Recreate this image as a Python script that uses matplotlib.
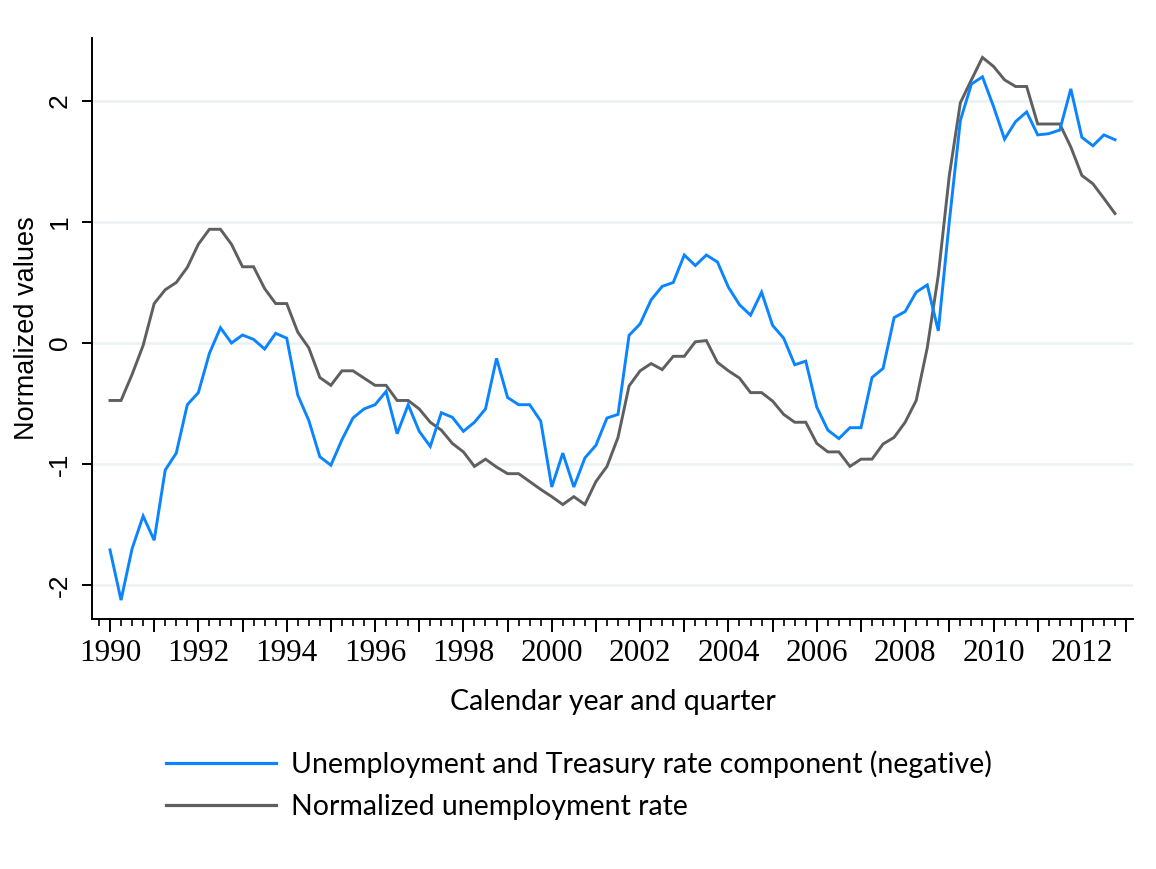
import numpy as np
import matplotlib
matplotlib.use("Agg")
import matplotlib.pyplot as plt
from matplotlib.ticker import MultipleLocator

# Quarterly data, 1990q1 .. 2012q4
start_year = 1990
n_quarters = 92

component_negative = [
    -1.71, -2.125, -1.70, -1.43, -1.63, -1.05, -0.91, -0.51, -0.41, -0.086,
    0.126, 0.0, 0.066, 0.03, -0.05, 0.08, 0.04, -0.43, -0.64, -0.94,
    -1.01, -0.80, -0.62, -0.545, -0.51, -0.40, -0.75, -0.51, -0.73, -0.855,
    -0.576, -0.614, -0.73, -0.655, -0.545, -0.127, -0.45, -0.51, -0.51, -0.645,
    -1.19, -0.91, -1.19, -0.95, -0.845, -0.62, -0.59, 0.063, 0.158, 0.357,
    0.468, 0.50, 0.727, 0.64, 0.727, 0.67, 0.46, 0.316, 0.23, 0.42,
    0.145, 0.04, -0.18, -0.15, -0.53, -0.72, -0.79, -0.70, -0.70, -0.285,
    -0.21, 0.21, 0.26, 0.42, 0.48, 0.10, 1.005, 1.84, 2.14, 2.20,
    1.955, 1.685, 1.83, 1.91, 1.72, 1.73, 1.76, 2.10, 1.70, 1.63,
    1.72, 1.68,
]

unemployment_norm = [
    -0.475, -0.475, -0.26, -0.02, 0.326, 0.44, 0.50, 0.625, 0.816, 0.94,
    0.94, 0.816, 0.63, 0.63, 0.45, 0.326, 0.326, 0.09, -0.04, -0.285,
    -0.35, -0.23, -0.23, -0.29, -0.35, -0.35, -0.475, -0.475, -0.545, -0.655,
    -0.72, -0.83, -0.90, -1.02, -0.96, -1.025, -1.08, -1.08, -1.145, -1.21,
    -1.27, -1.335, -1.27, -1.335, -1.145, -1.02, -0.78, -0.355, -0.23, -0.17,
    -0.22, -0.11, -0.11, 0.01, 0.02, -0.16, -0.23, -0.29, -0.41, -0.41,
    -0.48, -0.59, -0.655, -0.655, -0.83, -0.90, -0.90, -1.02, -0.96, -0.96,
    -0.835, -0.78, -0.655, -0.475, -0.04, 0.56, 1.385, 1.986, 2.175, 2.36,
    2.286, 2.175, 2.12, 2.12, 1.81, 1.81, 1.81, 1.62, 1.385, 1.316,
    1.195, 1.07,
]

year_ticks = list(range(1990, 2014))
year_labels = [str(y) if y % 2 == 0 and y <= 2012 else "" for y in year_ticks]
y_ticks = [-2, -1, 0, 1, 2]
y_labels = ["-2", "-1", "0", "1", "2"]

series_labels = [
    "Unemployment and Treasury rate component (negative)",
    "Normalized unemployment rate",
]

quarters = start_year + np.arange(n_quarters) / 4.0

BLUE = "#0A84FF"
GRAY = "#5F5F5F"
GRID = "#EAF2F3"

fig = plt.figure(figsize=(11.56, 8.69), dpi=100)
ax = fig.add_axes([0.0796, 0.2877, 0.9004, 0.6686])

for yv in y_ticks:
    ax.axhline(yv, color=GRID, lw=1.8, zorder=0)

l1, = ax.plot(quarters, component_negative, color=BLUE, lw=2.1,
              solid_joinstyle="miter", zorder=3)
l2, = ax.plot(quarters, unemployment_norm, color=GRAY, lw=2.1,
              solid_joinstyle="miter", zorder=2)

ax.set_xlim(1989.593, 2013.155)
ax.set_ylim(-2.281, 2.521)

for s in ["top", "right"]:
    ax.spines[s].set_visible(False)
for s in ["left", "bottom"]:
    ax.spines[s].set_linewidth(1.4)
    ax.spines[s].set_color("black")

ax.set_xticks(year_ticks)
ax.set_xticklabels(year_labels, fontfamily="Liberation Serif", fontsize=22.5)
ax.xaxis.set_minor_locator(MultipleLocator(0.25))
ax.tick_params(axis="x", which="major", length=9.5, width=1.4, pad=5)
ax.tick_params(axis="x", which="minor", length=5, width=1.2)

ax.set_yticks(y_ticks)
ax.set_yticklabels(y_labels, fontfamily="Liberation Sans", fontsize=19,
                   rotation=90, va="center")
ax.tick_params(axis="y", which="major", length=7.5, width=1.4, pad=7)

ax.set_xlabel("Calendar year and quarter", fontfamily="Lato", fontsize=20.5,
              labelpad=15)
ax.set_ylabel("Normalized values", fontfamily="Liberation Sans", fontsize=19.5,
              labelpad=6)

leg = fig.legend([l1, l2], series_labels, loc="upper left",
                 bbox_to_anchor=(0.1436, 0.136), frameon=False,
                 prop={"family": "Lato", "size": 20.5},
                 handlelength=3.85, handletextpad=0.55, labelspacing=0.55,
                 borderaxespad=0, borderpad=0)
for h in leg.get_lines():
    h.set_linewidth(2.3)

fig.savefig("out.png", dpi=100)
